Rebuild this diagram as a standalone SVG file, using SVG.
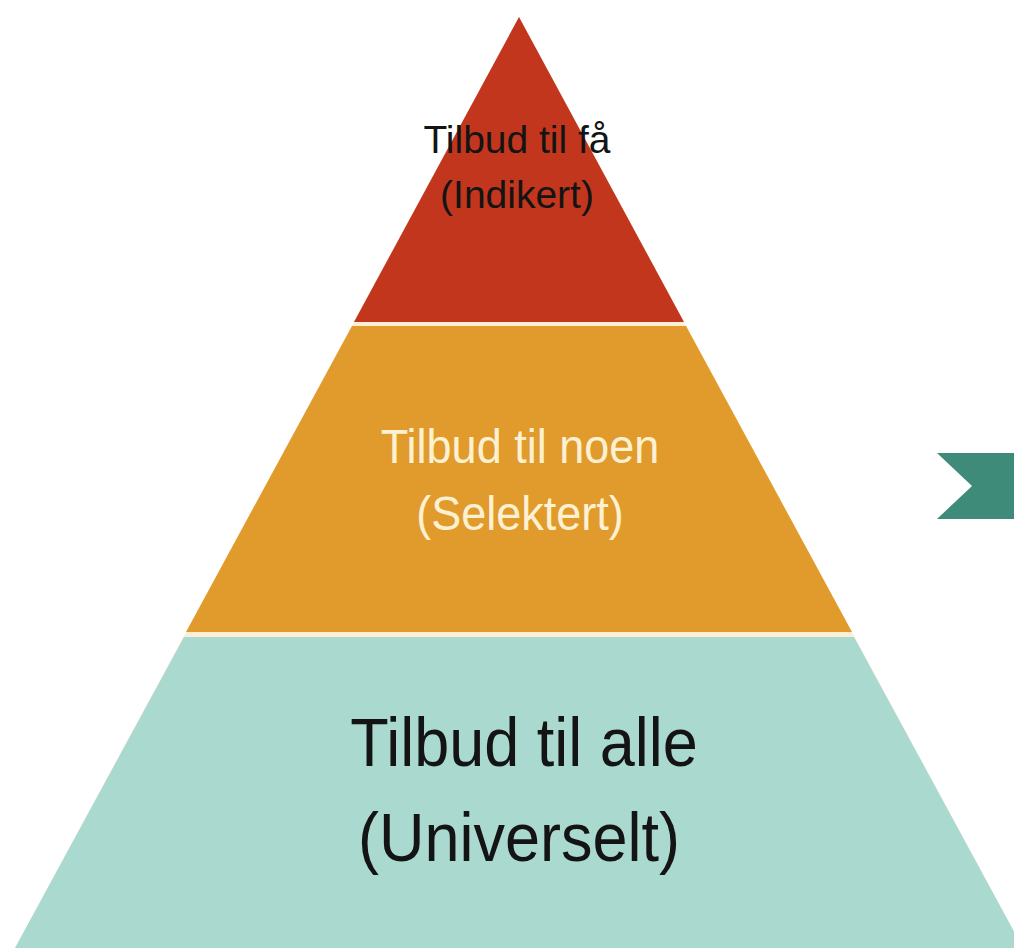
<svg xmlns="http://www.w3.org/2000/svg" width="1014" height="948" viewBox="0 0 1014 948">
<style>
.lbl{font-family:"Liberation Sans",Arial,sans-serif;text-anchor:middle}
.dark{fill:#141414}
.light{fill:#fdf1d2}
</style>
<rect width="1014" height="948" fill="#ffffff"/>
<polygon points="519,17 1023,948 15,948" fill="#fcefd6"/>
<g id="tier-top">
<polygon points="519,17 684,322 354,322" fill="#c2361e"/>
<text class="lbl dark" x="517" y="153" font-size="39">Tilbud til få</text>
<text class="lbl dark" x="517" y="208" font-size="39">(Indikert)</text>
</g>
<g id="tier-middle">
<polygon points="352,326 686,326 852,632 186,632" fill="#e19b2c"/>
<text class="lbl light" font-size="45" transform="translate(520,463) scale(1,1.05)">Tilbud til noen</text>
<text class="lbl light" font-size="45" transform="translate(520,530) scale(1,1.05)">(Selektert)</text>
</g>
<g id="tier-bottom">
<polygon points="184,637 854,637 1023,948 15,948" fill="#a9d9cf"/>
<text class="lbl dark" font-size="63" transform="translate(524,766) scale(1,1.08)">Tilbud til alle</text>
<text class="lbl dark" font-size="63" transform="translate(519,861) scale(1,1.08)">(Universelt)</text>
</g>
<g id="chevron">
<polygon points="937,453 1014,453 1014,519 937,519 972,486" fill="#3e8b79"/>
</g>
<g id="connectors"/>
</svg>
